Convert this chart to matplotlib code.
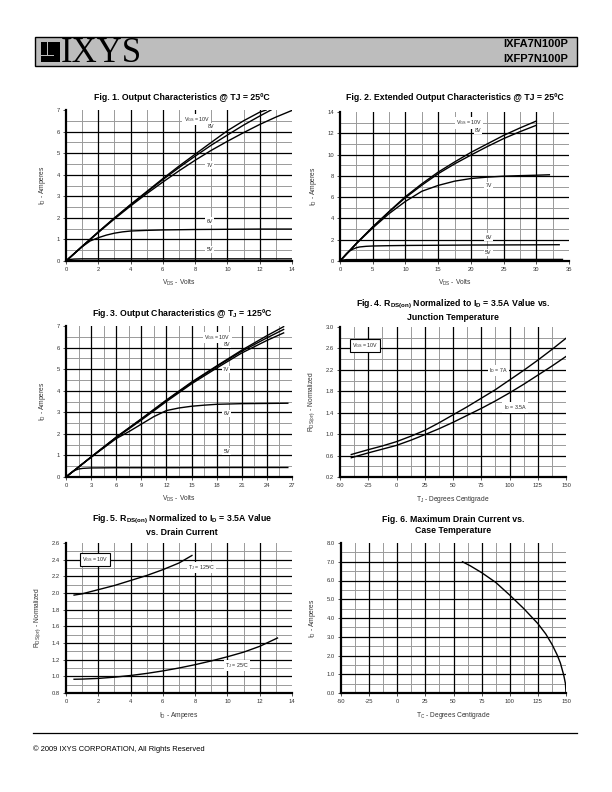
import numpy as np
import matplotlib
matplotlib.use('Agg')
import matplotlib.pyplot as plt
from matplotlib.patches import Rectangle

plt.rcParams['font.family'] = ['Liberation Sans', 'DejaVu Sans']
plt.rcParams['mathtext.default'] = 'regular'

# ---- Fig. 1 data: output characteristics @ 25C (V_DS, I_D) ----
f1_x_10v = [0, 1, 2, 3, 4, 5, 6, 7, 8, 9, 10, 11, 12, 12.4]
f1_y_10v = [0, 0.68, 1.35, 2.0, 2.62, 3.22, 3.82, 4.4, 4.95, 5.5, 6.04, 6.5, 6.9, 7.0]
f1_x_8v = [0, 1, 2, 3, 4, 5, 6, 7, 8, 9, 10, 11, 12, 12.7]
f1_y_8v = [0, 0.68, 1.34, 1.98, 2.6, 3.19, 3.77, 4.33, 4.86, 5.37, 5.84, 6.3, 6.72, 7.0]
f1_x_7v = [0, 1, 2, 3, 4, 5, 6, 7, 8, 9, 10, 11, 12, 13, 14]
f1_y_7v = [0, 0.67, 1.32, 1.95, 2.55, 3.12, 3.66, 4.18, 4.67, 5.13, 5.55, 5.95, 6.33, 6.67, 6.98]
f1_x_6v = [0, 0.5, 1, 1.5, 2, 2.5, 3, 3.5, 4, 5, 6, 8, 10, 12, 14]
f1_y_6v = [0, 0.33, 0.66, 0.93, 1.08, 1.2, 1.29, 1.35, 1.39, 1.42, 1.44, 1.46, 1.47, 1.48, 1.48]
f1_x_5v = [0, 0.2, 0.5, 1, 2, 4, 8, 14]
f1_y_5v = [0, 0.07, 0.09, 0.1, 0.1, 0.1, 0.1, 0.1]

# ---- Fig. 2 data: extended output characteristics @ 25C ----
f2_x_hi = [0, 2.5, 5, 7.5, 10, 12.5, 15, 17.5, 20, 22.5, 25, 27.5, 30]
f2_y_10v = [0, 1.65, 3.2, 4.65, 6.05, 7.25, 8.35, 9.3, 10.2, 11.0, 11.8, 12.5, 13.15]
f2_y_8v = [0, 1.65, 3.2, 4.62, 5.95, 7.12, 8.2, 9.12, 9.95, 10.75, 11.5, 12.15, 12.75]
f2_x_7v = [0, 2.5, 5, 7.5, 10, 12.5, 15, 17.5, 20, 22.5, 25, 27.5, 30, 32]
f2_y_7v = [0, 1.63, 3.1, 4.45, 5.6, 6.55, 7.1, 7.5, 7.75, 7.88, 7.97, 8.02, 8.06, 8.1]
f2_x_6v = [0, 1, 1.5, 2, 2.5, 3, 4, 5, 7.5, 10, 15, 20, 25, 30, 33.5]
f2_y_6v = [0, 0.7, 0.95, 1.12, 1.25, 1.32, 1.38, 1.41, 1.44, 1.46, 1.48, 1.5, 1.51, 1.52, 1.53]
f2_x_5v = [0, 0.5, 1, 5, 10, 20, 34]
f2_y_5v = [0, 0.1, 0.13, 0.14, 0.15, 0.15, 0.15]

# ---- Fig. 3 data: output characteristics @ 125C ----
f3_x_hi = [0, 3, 6, 9, 12, 15, 18, 21, 24, 26]
f3_y_10v = [0, 0.93, 1.85, 2.7, 3.57, 4.4, 5.15, 5.88, 6.55, 6.97]
f3_y_8v = [0, 0.93, 1.84, 2.68, 3.55, 4.37, 5.12, 5.83, 6.45, 6.84]
f3_y_7v = [0, 0.92, 1.82, 2.64, 3.5, 4.32, 5.05, 5.75, 6.33, 6.68]
f3_x_6v = [0, 3, 6, 7.5, 9, 10.5, 12, 13.5, 15, 16.5, 18, 21, 24, 26.5]
f3_y_6v = [0, 0.92, 1.78, 2.1, 2.45, 2.8, 3.08, 3.2, 3.28, 3.33, 3.37, 3.4, 3.41, 3.42]
f3_x_5v = [0, 0.5, 1, 1.5, 2, 3, 6, 12, 20, 26.5]
f3_y_5v = [0, 0.17, 0.3, 0.37, 0.4, 0.42, 0.43, 0.43, 0.44, 0.44]

# ---- Fig. 4 data: RDS(on) normalized vs junction temperature ----
f4_t = [-40, -25, -12.5, 0, 12.5, 25, 37.5, 50, 62.5, 75, 87.5, 100, 112.5, 125, 137.5, 150]
f4_r_7a = [0.62, 0.71, 0.78, 0.86, 0.96, 1.07, 1.21, 1.36, 1.51, 1.67, 1.83, 2.01, 2.19, 2.38, 2.58, 2.79]
f4_r_35a = [0.56, 0.65, 0.72, 0.79, 0.885, 0.99, 1.1, 1.22, 1.35, 1.48, 1.62, 1.77, 1.93, 2.1, 2.27, 2.45]

# ---- Fig. 5 data: RDS(on) normalized vs drain current ----
f5_i_125 = [0.5, 1, 2, 3, 4, 5, 6, 7, 7.8]
f5_r_125 = [1.975, 1.99, 2.04, 2.09, 2.15, 2.21, 2.28, 2.36, 2.45]
f5_i_25 = [0.5, 1, 2, 3, 4, 5, 6, 7, 8, 9, 10, 11, 12, 13.1]
f5_r_25 = [0.965, 0.967, 0.975, 0.99, 1.01, 1.035, 1.065, 1.1, 1.14, 1.185, 1.235, 1.29, 1.36, 1.46]

# ---- Fig. 6 data: max drain current vs case temperature ----
f6_t = [58, 65, 75, 87.5, 100, 112.5, 125, 132, 137.5, 142, 145, 148, 149.5, 150]
f6_i = [7.0, 6.78, 6.42, 5.9, 5.22, 4.5, 3.7, 3.15, 2.6, 2.05, 1.6, 0.95, 0.5, 0.0]

W, H = 612, 792
fig = plt.figure(figsize=(W / 100, H / 100), dpi=100)


def add_axes(l, t, r, b):
    return fig.add_axes([l / W, 1 - b / H, (r - l) / W, (b - t) / H])


def style(ax, xlim, ylim, xmaj, xmin, ymaj, ymin, yfmt='%g'):
    ax.set_xlim(xlim)
    ax.set_ylim(ylim)
    xt = np.arange(xlim[0], xlim[1] + xmaj / 2, xmaj)
    yt = np.arange(ylim[0], ylim[1] + ymaj / 2, ymaj)
    ax.set_xticks(xt)
    ax.set_yticks(yt)
    ax.set_xticklabels(['%g' % v for v in xt])
    ax.set_yticklabels([yfmt % v for v in yt])
    # grid: gray minor lines, black major lines (inside only)
    for v in np.arange(xlim[0], xlim[1], xmin)[1:]:
        ax.axvline(v, color='#9a9a9a', lw=0.7, zorder=1)
    for v in np.arange(ylim[0], ylim[1], ymin)[1:]:
        ax.axhline(v, color='#9a9a9a', lw=0.7, zorder=1)
    for v in xt[1:-1]:
        ax.axvline(v, color='black', lw=0.9, zorder=2)
    for v in yt[1:-1]:
        ax.axhline(v, color='black', lw=0.9, zorder=2)
    for s in ['top', 'right']:
        ax.spines[s].set_visible(False)
    for s in ['left', 'bottom']:
        ax.spines[s].set_linewidth(1.6)
        ax.spines[s].set_zorder(5)
    ax.tick_params(length=2, width=0.6, labelsize=4.2, colors='#333333', pad=2.5)


def title(cx, y, s):
    fig.text(cx / W, 1 - y / H, s, ha='center', va='center', fontsize=6.3,
             fontweight='bold', family=['Liberation Sans Narrow', 'Liberation Sans'],
             linespacing=1.25)


def lab(ax, x, y, s, box=False):
    if box:
        bb = dict(fc='white', ec='black', lw=0.8, pad=1.5)
    else:
        bb = dict(fc='white', ec='none', pad=0.8)
    ax.text(x, y, s, fontsize=3.8, ha='center', va='center', color='#222222',
            bbox=bb, zorder=6)


def axlabels(ax, xl, yl):
    ax.set_xlabel(xl, fontsize=4.8, color='#333333', labelpad=4)
    ax.set_ylabel(yl, fontsize=4.8, color='#333333', labelpad=6)


lk = dict(color='black', lw=1.0, zorder=4, solid_joinstyle='round')

# ---- header ----
fig.patches.append(Rectangle((35 / W, 1 - 66 / H), 542 / W, 29 / H, transform=fig.transFigure,
                             fc='#bdbdbd', ec='black', lw=1.0))
fig.patches.append(Rectangle((41 / W, 1 - 62 / H), 19 / W, 20 / H, transform=fig.transFigure,
                             fc='black', ec='none'))
fig.patches.append(Rectangle((47 / W, 1 - 56 / H), 1.3 / W, 14 / H, transform=fig.transFigure,
                             fc='#bdbdbd', ec='none'))
fig.patches.append(Rectangle((41 / W, 1 - 56 / H), 13 / W, 1.3 / H, transform=fig.transFigure,
                             fc='#bdbdbd', ec='none'))
fig.text(61 / W, 1 - 62 / H, 'IXYS', fontsize=25, family='Liberation Serif', ha='left', va='baseline')
fig.text(568 / W, 1 - 44 / H, 'IXFA7N100P', fontsize=8, fontweight='bold', ha='right', va='center')
fig.text(568 / W, 1 - 59 / H, 'IXFP7N100P', fontsize=8, fontweight='bold', ha='right', va='center')

# ---- Fig. 1 ----
ax1 = add_axes(66, 110, 292, 261)
style(ax1, (0, 14), (0, 7), 2, 1, 1, 0.5)
ax1.plot(f1_x_10v, f1_y_10v, **lk)
ax1.plot(f1_x_8v, f1_y_8v, **lk)
ax1.plot(f1_x_7v, f1_y_7v, **lk)
ax1.plot(f1_x_6v, f1_y_6v, **lk)
ax1.plot(f1_x_5v, f1_y_5v, **lk)
lab(ax1, 8.1, 6.55, 'V$_{GS}$ = 10V')
lab(ax1, 9.0, 6.22, '8V')
lab(ax1, 8.9, 4.45, '7V')
lab(ax1, 8.9, 1.85, '6V')
lab(ax1, 8.9, 0.55, '5V')
axlabels(ax1, 'V$_{DS}$ - Volts', 'I$_{D}$ - Amperes')
title(182, 97, 'Fig. 1. Output Characteristics @ TJ = 25ºC')

# ---- Fig. 2 ----
ax2 = add_axes(340, 112, 569, 261)
style(ax2, (0, 35), (0, 14), 5, 2.5, 2, 1)
ax2.plot(f2_x_hi, f2_y_10v, **lk)
ax2.plot(f2_x_hi, f2_y_8v, **lk)
ax2.plot(f2_x_7v, f2_y_7v, **lk)
ax2.plot(f2_x_6v, f2_y_6v, **lk)
ax2.plot(f2_x_5v, f2_y_5v, **lk)
lab(ax2, 19.7, 12.97, 'V$_{GS}$ = 10V')
lab(ax2, 21.1, 12.3, '8V')
lab(ax2, 22.7, 7.1, '7V')
lab(ax2, 22.7, 2.25, '6V')
lab(ax2, 22.7, 0.78, '5V')
axlabels(ax2, 'V$_{DS}$ - Volts', 'I$_{D}$ - Amperes')
title(455, 97, 'Fig. 2. Extended Output Characteristics @ TJ = 25ºC')

# ---- Fig. 3 ----
ax3 = add_axes(66, 326, 292, 477)
style(ax3, (0, 27), (0, 7), 3, 1.5, 1, 0.5)
ax3.plot(f3_x_hi, f3_y_10v, **lk)
ax3.plot(f3_x_hi, f3_y_8v, **lk)
ax3.plot(f3_x_hi, f3_y_7v, **lk)
ax3.plot(f3_x_6v, f3_y_6v, **lk)
ax3.plot(f3_x_5v, f3_y_5v, **lk)
lab(ax3, 18.1, 6.47, 'V$_{GS}$ = 10V')
lab(ax3, 19.2, 6.15, '8V')
lab(ax3, 19.1, 4.98, '7V')
lab(ax3, 19.2, 2.94, '6V')
lab(ax3, 19.2, 1.2, '5V')
axlabels(ax3, 'V$_{DS}$ - Volts', 'I$_{D}$ - Amperes')
title(182, 313, 'Fig. 3. Output Characteristics @ T$_{J}$ = 125ºC')

# ---- Fig. 4 ----
ax4 = add_axes(340, 327, 566, 477)
style(ax4, (-50, 150), (0.2, 3.0), 25, 12.5, 0.4, 0.2, '%.1f')
ax4.plot(f4_t, f4_r_7a, **lk)
ax4.plot(f4_t, f4_r_35a, **lk)
lab(ax4, -27.8, 2.66, 'V$_{GS}$ = 10V', box=True)
lab(ax4, 90, 2.18, 'I$_{D}$ = 7A')
lab(ax4, 105, 1.5, 'I$_{D}$ = 3.5A')
axlabels(ax4, 'T$_{J}$ - Degrees Centigrade', 'R$_{DS(on)}$ - Normalized')
title(453, 310, 'Fig. 4. R$_{DS(on)}$ Normalized to I$_{D}$ = 3.5A Value vs.\nJunction Temperature')

# ---- Fig. 5 ----
ax5 = add_axes(66, 543, 292, 693)
style(ax5, (0, 14), (0.8, 2.6), 2, 1, 0.2, 0.1, '%.1f')
ax5.plot(f5_i_125, f5_r_125, **lk)
ax5.plot(f5_i_25, f5_r_25, **lk)
lab(ax5, 1.8, 2.40, 'V$_{GS}$ = 10V', box=True)
lab(ax5, 8.4, 2.31, 'T$_{J}$ = 125ºC')
lab(ax5, 10.6, 1.13, 'T$_{J}$ = 25ºC')
axlabels(ax5, 'I$_{D}$ - Amperes', 'R$_{DS(on)}$ - Normalized')
title(182, 525, 'Fig. 5. R$_{DS(on)}$ Normalized to I$_{D}$ = 3.5A Value\nvs. Drain Current')

# ---- Fig. 6 ----
ax6 = add_axes(341, 543, 566, 693)
style(ax6, (-50, 150), (0, 8), 25, 12.5, 1, 0.5, '%.1f')
ax6.plot(f6_t, f6_i, **lk)
axlabels(ax6, 'T$_{C}$ - Degrees Centigrade', 'I$_{D}$ - Amperes')
title(453, 525, 'Fig. 6. Maximum Drain Current vs.\nCase Temperature')

# ---- footer ----
fig.add_artist(plt.Line2D([33 / W, 577 / W], [1 - 733 / H, 1 - 733 / H], color='black', lw=0.9))
fig.text(33 / W, 1 - 749 / H, '© 2009 IXYS CORPORATION, All Rights Reserved', fontsize=5.4,
         ha='left', va='center')

fig.savefig('out.png', dpi=100)
